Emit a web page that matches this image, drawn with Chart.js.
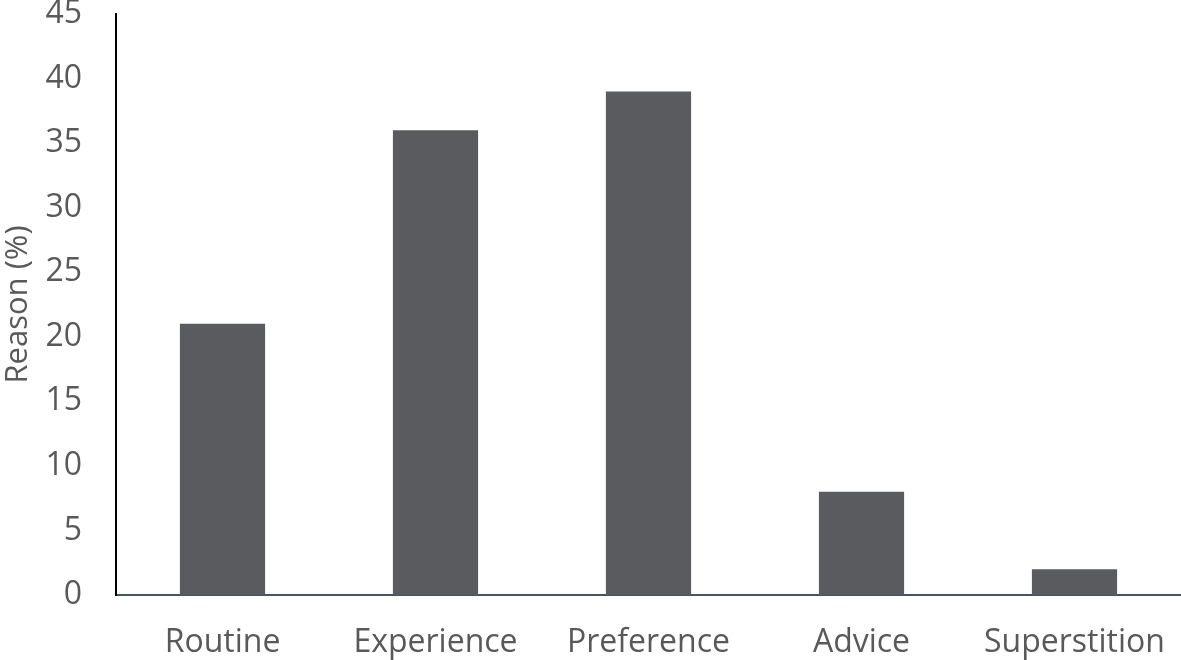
<!DOCTYPE html>
<html>
<head>
<meta charset="utf-8">
<script src="https://cdn.jsdelivr.net/npm/chart.js@4/dist/chart.umd.min.js"></script>
<style>
  html, body { margin: 0; padding: 0; background: #fff; }
  #wrap { width: 1181px; height: 660px; }
</style>
</head>
<body>
<div id="wrap"><canvas id="myChart"></canvas></div>
<script>
// datos del grafico
const categorias = ['Routine', 'Experience', 'Preference', 'Advice', 'Superstition'];
const valores = [21, 36, 39, 8, 2];
const yMin = 0, yMax = 45, yStep = 5;

const textoColor = '#595959';
const fuente = "'Open Sans', 'Liberation Sans', sans-serif";

const grafica = document.getElementById('myChart');
const myChart = new Chart(grafica, {
  type: 'bar',
  data: {
    labels: categorias,
    datasets: [{
      data: valores,
      backgroundColor: '#5a5b5e',
      borderWidth: 0,
      barPercentage: 0.4,
      categoryPercentage: 1
    }]
  },
  options: {
    responsive: true,
    maintainAspectRatio: false,
    animation: false,
    layout: { padding: 0 },
    plugins: {
      legend: { display: false },
      tooltip: { enabled: false }
    },
    scales: {
      x: {
        grid: { display: false, drawTicks: false },
        border: { display: true, color: '#44546a', width: 2 },
        ticks: { color: textoColor, font: { family: fuente, size: 32 }, padding: 29 },
        afterFit: s => { s.height = 65; s.paddingLeft = 0; s.paddingRight = 0; }
      },
      y: {
        min: yMin,
        max: yMax,
        grid: { display: false, drawTicks: false },
        border: { display: true, color: '#000', width: 2 },
        ticks: { stepSize: yStep, color: textoColor, font: { family: fuente, size: 32 }, padding: 34 },
        title: {
          display: true,
          text: 'Reason (%)',
          color: textoColor,
          font: { family: fuente, size: 31 },
          padding: 0
        },
        // el eje empieza casi arriba, como en la imagen
        afterFit: s => { s.width = 116; s.paddingTop = 14; s.paddingBottom = 0; }
      }
    }
  }
});
</script>
</body>
</html>
